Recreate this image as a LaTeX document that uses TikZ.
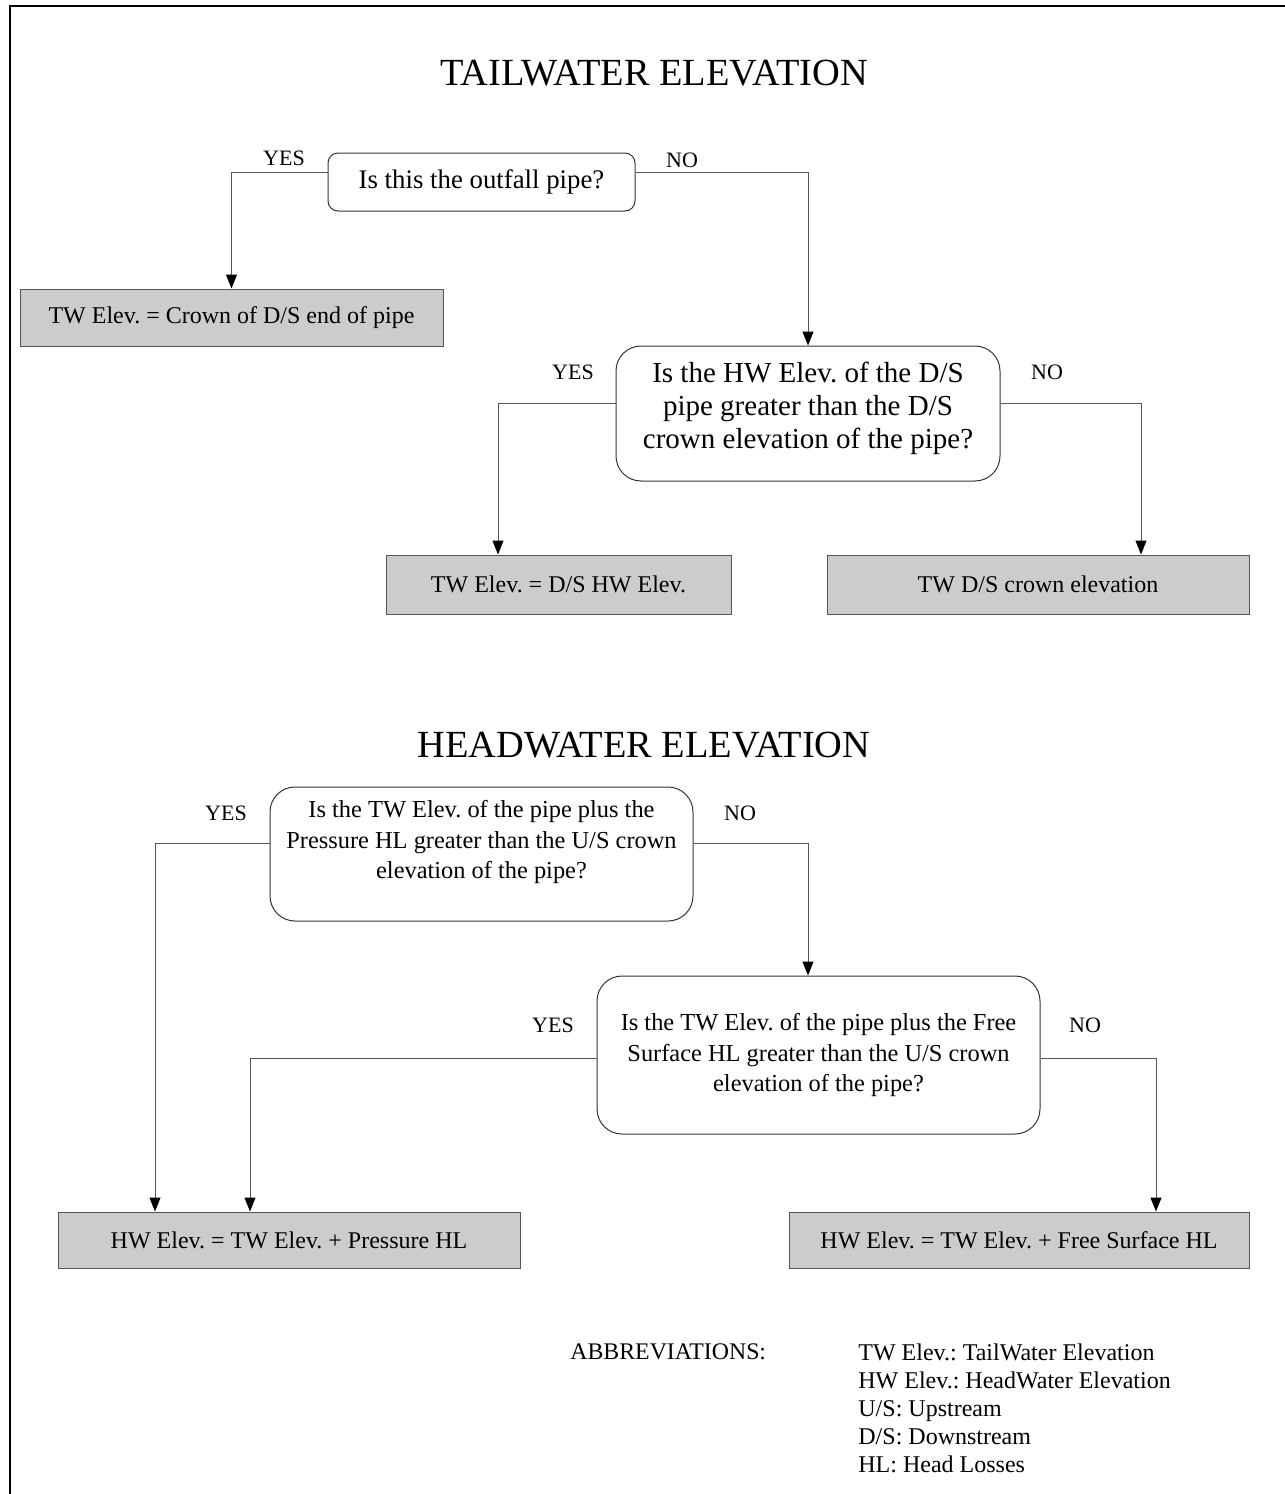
\documentclass[tikz,border=0pt]{standalone}
\usepackage{fontspec}
\setmainfont{Liberation Serif}
\usetikzlibrary{arrows.meta}
\definecolor{boxgray}{HTML}{CCCCCC}
\definecolor{edgegray}{HTML}{555555}
\frenchspacing
\begin{document}
\begin{tikzpicture}[x=0.5pt,y=-0.5pt,
  qbox/.style={draw=black!80, line width=0.5pt, inner sep=0pt},
  abox/.style={draw=edgegray, fill=boxgray, line width=0.5pt, inner sep=0pt, font=\fontsize{12}{14}\selectfont},
  qtext/.style={inner sep=0pt, align=center},
  lbl/.style={inner sep=0pt, font=\fontsize{11}{13}\selectfont},
  ttl/.style={inner sep=0pt, font=\fontsize{19.2}{22}\selectfont},
  conn/.style={draw=edgegray, line width=0.5pt, -{Triangle[length=7pt,width=5.5pt,color=black]}},
]
\useasboundingbox (0,0) rectangle (1285,1494);
% frame
\draw[line width=1.3pt] (10,1494) -- (10,6) -- (1285,6);

% titles
\node[ttl] (t1) at (654,73) {TAILWATER ELEVATION};
\node[ttl] (t2) at (644,745) {HEADWATER ELEVATION};

% tailwater
\node[qbox, rounded corners=5pt, minimum width=153.5pt, minimum height=29pt] (q1) at (481.5,182) {};
\node[qtext, font=\fontsize{13.4}{16}\selectfont] (q1t) at (481.5,182) {Is this the outfall pipe?};
\node[abox, minimum width=211.5pt, minimum height=28.5pt] (a) at (231.5,317.5) {TW Elev. = Crown of D/S end of pipe};
\node[qbox, rounded corners=12.5pt, minimum width=192pt, minimum height=67.5pt] (q2) at (808,413.5) {};
\node[qtext, font=\fontsize{14.5}{16.5}\selectfont] (q2t) at (808,408) {Is the HW Elev. of the D/S\\pipe greater than the D/S\\crown elevation of the pipe?};
\node[abox, minimum width=172.5pt, minimum height=29.5pt] (b) at (558.5,584.5) {TW Elev. = D/S HW Elev.};
\node[abox, minimum width=211pt, minimum height=29.5pt] (c) at (1038,584.5) {TW D/S crown elevation};

\node[lbl] (yes1) at (284,158) {YES};
\node[lbl] (no1) at (682,160) {NO};
\node[lbl] (yes2) at (573,372) {YES};
\node[lbl] (no2) at (1047,372) {NO};

\draw[conn] ([yshift=5pt]q1.west) -| (a.north);
\draw[conn] ([yshift=5pt]q1.east) -| (q2.north);
\draw[conn] ([yshift=5pt]q2.west) -| ([xshift=-30.25pt]b.north);
\draw[conn] ([yshift=5pt]q2.east) -| ([xshift=51.5pt]c.north);

% headwater
\node[qbox, rounded corners=12.5pt, minimum width=211.5pt, minimum height=67pt] (q3) at (481.5,854) {};
\node[qtext, font=\fontsize{12.2}{15.25}\selectfont] (q3t) at (481.5,842) {Is the TW Elev. of the pipe plus the\\Pressure HL greater than the U/S crown\\elevation of the pipe?};
\node[qbox, rounded corners=12.5pt, minimum width=221.5pt, minimum height=79pt] (q4) at (818.5,1055) {};
\node[qtext, font=\fontsize{12.2}{15.25}\selectfont] (q4t) at (818.5,1055) {Is the TW Elev. of the pipe plus the Free\\Surface HL greater than the U/S crown\\elevation of the pipe?};
\node[abox, minimum width=231pt, minimum height=28pt] (d) at (289,1240) {HW Elev. = TW Elev. + Pressure HL};
\node[abox, minimum width=230pt, minimum height=28pt] (e) at (1019,1240) {HW Elev. = TW Elev. + Free Surface HL};

\node[lbl] (yes3) at (226,813) {YES};
\node[lbl] (no3) at (740,813) {NO};
\node[lbl] (yes4) at (553,1025) {YES};
\node[lbl] (no4) at (1085,1025) {NO};

\draw[conn] ([yshift=5.5pt]q3.west) -| ([xshift=-67pt]d.north);
\draw[conn] ([yshift=5.5pt]q3.east) -| ([xshift=-5.25pt]q4.north);
\draw[conn] ([yshift=-1.5pt]q4.west) -| ([xshift=-19.5pt]d.north);
\draw[conn] ([yshift=-1.5pt]q4.east) -| ([xshift=68.5pt]e.north);

% abbreviations
\node[inner sep=0pt, anchor=north west, font=\fontsize{11.9}{14}\selectfont] (abbr) at (570,1343) {ABBREVIATIONS:};
\node[inner sep=0pt, anchor=north west, align=left, font=\fontsize{12}{14}\selectfont] (abbrlist) at (858,1343) {TW Elev.: TailWater Elevation\\HW Elev.: HeadWater Elevation\\U/S: Upstream\\D/S: Downstream\\HL: Head Losses};
\end{tikzpicture}
\end{document}
